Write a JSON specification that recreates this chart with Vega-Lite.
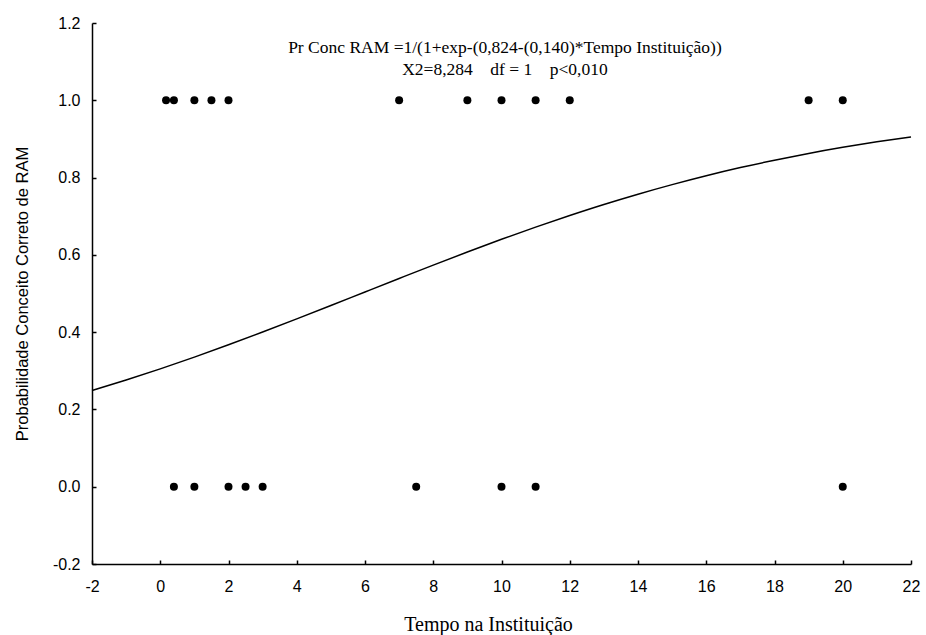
{
  "$schema": "https://vega.github.io/schema/vega-lite/v6.json",
  "width": 819,
  "height": 541,
  "autosize": {"type": "none"},
  "padding": {"left": 92, "top": 23, "right": 15, "bottom": 71},
  "background": "white",
  "config": {
    "view": {"stroke": null},
    "axis": {
      "grid": false,
      "domainColor": "black",
      "domainWidth": 1.5,
      "tickColor": "black",
      "tickWidth": 1.5,
      "tickSize": -4,
      "labelFont": "Liberation Sans",
      "labelFontSize": 16,
      "labelColor": "black",
      "titleColor": "black",
      "labelFlush": false,
      "labelExpr": "replace(datum.label, '\u2212', '-')"
    }
  },
  "datasets": {
    "obs": [
      {"tempo": 0.17, "conc": 1},
      {"tempo": 0.4, "conc": 1},
      {"tempo": 1, "conc": 1},
      {"tempo": 1.5, "conc": 1},
      {"tempo": 2, "conc": 1},
      {"tempo": 7, "conc": 1},
      {"tempo": 9, "conc": 1},
      {"tempo": 10, "conc": 1},
      {"tempo": 11, "conc": 1},
      {"tempo": 12, "conc": 1},
      {"tempo": 19, "conc": 1},
      {"tempo": 20, "conc": 1},
      {"tempo": 0.4, "conc": 0},
      {"tempo": 1, "conc": 0},
      {"tempo": 2, "conc": 0},
      {"tempo": 2.5, "conc": 0},
      {"tempo": 3, "conc": 0},
      {"tempo": 7.5, "conc": 0},
      {"tempo": 10, "conc": 0},
      {"tempo": 11, "conc": 0},
      {"tempo": 20, "conc": 0}
    ],
    "fit": [
      {"tempo": -2, "p": 0.2490},
      {"tempo": -1, "p": 0.2761},
      {"tempo": 0, "p": 0.3049},
      {"tempo": 1, "p": 0.3354},
      {"tempo": 2, "p": 0.3672},
      {"tempo": 3, "p": 0.4004},
      {"tempo": 4, "p": 0.4344},
      {"tempo": 5, "p": 0.4690},
      {"tempo": 6, "p": 0.5040},
      {"tempo": 7, "p": 0.5389},
      {"tempo": 8, "p": 0.5735},
      {"tempo": 9, "p": 0.6073},
      {"tempo": 10, "p": 0.6402},
      {"tempo": 11, "p": 0.6718},
      {"tempo": 12, "p": 0.7018},
      {"tempo": 13, "p": 0.7303},
      {"tempo": 14, "p": 0.7569},
      {"tempo": 15, "p": 0.7817},
      {"tempo": 16, "p": 0.8047},
      {"tempo": 17, "p": 0.8258},
      {"tempo": 18, "p": 0.8450},
      {"tempo": 19, "p": 0.8625},
      {"tempo": 20, "p": 0.8783},
      {"tempo": 21, "p": 0.8925},
      {"tempo": 22, "p": 0.9052}
    ],
    "notes": [
      {"tempo": 10.1, "conc": 1.135, "label": "Pr Conc RAM =1/(1+exp-(0,824-(0,140)*Tempo Instituição))"},
      {"tempo": 10.1, "conc": 1.079, "label": "X2=8,284\u00a0\u00a0\u00a0\u00a0df\u00a0= 1\u00a0\u00a0\u00a0\u00a0p<0,010"}
    ]
  },
  "layer": [
    {
      "data": {"name": "fit"},
      "mark": {"type": "line", "color": "black", "strokeWidth": 1.5, "interpolate": "monotone"},
      "encoding": {
        "x": {
          "field": "tempo", "type": "quantitative",
          "scale": {"domain": [-2, 22], "nice": false, "zero": false},
          "axis": {"values": [-2, 0, 2, 4, 6, 8, 10, 12, 14, 16, 18, 20, 22], "format": "d", "labelPadding": 18,
                   "title": "Tempo na Instituição", "titleFont": "Liberation Serif", "titleFontSize": 20, "titleFontWeight": "normal", "titlePadding": 20, "titleX": 396}
        },
        "y": {
          "field": "p", "type": "quantitative",
          "scale": {"domain": [-0.2, 1.2], "nice": false, "zero": false},
          "axis": {"values": [-0.2, 0, 0.2, 0.4, 0.6, 0.8, 1.0, 1.2], "format": ".1f", "labelPadding": 16,
                   "title": "Probabilidade Conceito Correto de RAM", "titleFont": "Liberation Sans", "titleFontSize": 16.5, "titleFontWeight": "normal", "titlePadding": 22}
        }
      }
    },
    {
      "data": {"name": "obs"},
      "mark": {"type": "circle", "color": "black", "opacity": 1, "size": 64},
      "encoding": {
        "x": {"field": "tempo", "type": "quantitative"},
        "y": {"field": "conc", "type": "quantitative"}
      }
    },
    {
      "data": {"name": "notes"},
      "mark": {"type": "text", "font": "Liberation Serif", "fontSize": 17.5, "color": "black", "align": "center", "baseline": "middle"},
      "encoding": {
        "x": {"field": "tempo", "type": "quantitative"},
        "y": {"field": "conc", "type": "quantitative"},
        "text": {"field": "label"}
      }
    }
  ]
}
